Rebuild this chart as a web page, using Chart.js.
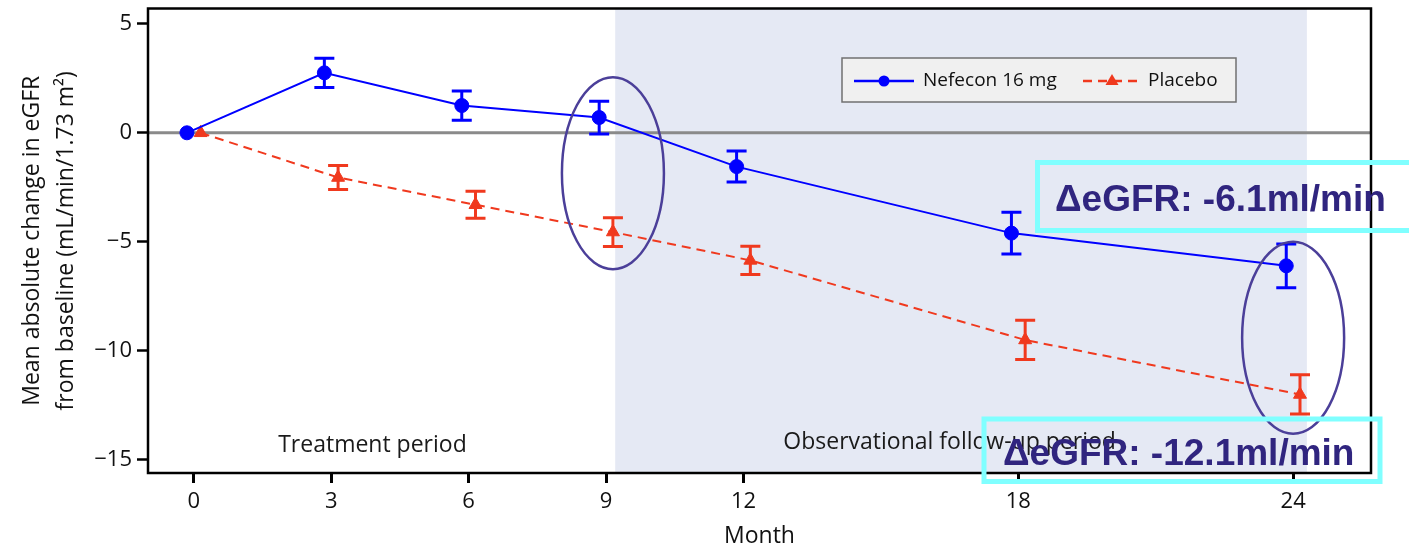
<!DOCTYPE html>
<html>
<head>
<meta charset="utf-8">
<script src="https://cdn.jsdelivr.net/npm/chart.js@4.4.1/dist/chart.umd.min.js"></script>
<style>
html, body { margin: 0; padding: 0; background: #fff; }
#wrap { width: 1409px; height: 548px; }
</style>
</head>
<body>
<div id="wrap"><canvas id="egfrChart" width="1409" height="548"></canvas></div>
<script>
// data
const months = [0, 3, 6, 9, 12, 18, 24];
const nefecon = [0, 2.75, 1.25, 0.7, -1.55, -4.6, -6.1];
const nefeconErr = [0, 0.67, 0.67, 0.75, 0.71, 0.96, 1.0];
const placebo = [0, -2.05, -3.3, -4.55, -5.85, -9.5, -12.0];
const placeboErr = [0, 0.55, 0.62, 0.66, 0.65, 0.9, 0.9];
const seriesNames = ["Nefecon 16 mg", "Placebo"];
const xTicks = [0, 3, 6, 9, 12, 18, 24];
const yTicks = [-15, -10, -5, 0, 5];
const periodLabels = ["Treatment period", "Observational follow-up period"];
const calloutTexts = ["\u0394eGFR: -6.1ml/min", "\u0394eGFR: -12.1ml/min"];

// styling / placement
const FONT = "'Open Sans', sans-serif";
const BLUE = "#0000ff";
const RED = "#f0391e";
const dodge = 0.15;
const followUp = [9.2, 24.3];

const makePoints = (vals, off) => vals.map((v, i) => ({x: months[i] + off, y: v}));

const overlay = {
id: "overlay",

beforeDatasetsDraw(chart){

const {ctx, chartArea: a, scales: {x, y}} = chart;
ctx.save();

/* follow-up shading */
const s0 = x.getPixelForValue(followUp[0]);
const s1 = x.getPixelForValue(followUp[1]);
ctx.fillStyle = "#e5e9f4";
ctx.fillRect(s0, a.top, s1 - s0, a.bottom - a.top);

/* zero line */
const y0 = y.getPixelForValue(0);
ctx.strokeStyle = "#8a8a8a";
ctx.lineWidth = 3;
ctx.beginPath();
ctx.moveTo(a.left, y0);
ctx.lineTo(a.right, y0);
ctx.stroke();

/* period labels */
ctx.fillStyle = "#1a1a1a";
ctx.font = "23px " + FONT;
ctx.textAlign = "center";
ctx.textBaseline = "middle";
ctx.fillText(periodLabels[0], x.getPixelForValue(3.9), y.getPixelForValue(-14.35));
ctx.fillText(periodLabels[1], x.getPixelForValue(16.5), y.getPixelForValue(-14.2));

/* axes box */
ctx.strokeStyle = "#000";
ctx.lineWidth = 2.5;
ctx.strokeRect(a.left, a.top, a.right - a.left, a.bottom - a.top);

ctx.restore();
},

afterDatasetsDraw(chart){

const {ctx, scales: {y}} = chart;
ctx.save();
ctx.lineWidth = 3;

chart.data.datasets.forEach((ds, i) => {
const meta = chart.getDatasetMeta(i);
ctx.strokeStyle = ds.borderColor;
meta.data.forEach((pt, j) => {
const e = ds.errors[j];
if(!e) return;
const v = ds.data[j].y;
const top = y.getPixelForValue(v + e);
const bot = y.getPixelForValue(v - e);
ctx.beginPath();
ctx.moveTo(pt.x, top);
ctx.lineTo(pt.x, bot);
ctx.moveTo(pt.x - 10, top);
ctx.lineTo(pt.x + 10, top);
ctx.moveTo(pt.x - 10, bot);
ctx.lineTo(pt.x + 10, bot);
ctx.stroke();
});
});

ctx.restore();
},

afterDraw(chart){

const {ctx, scales: {x, y}} = chart;
ctx.save();

/* legend */
ctx.fillStyle = "#f0f0f0";
ctx.fillRect(842, 58, 394, 44);
ctx.strokeStyle = "#707070";
ctx.lineWidth = 1.5;
ctx.strokeRect(842, 58, 394, 44);

const ly = 81;
ctx.lineWidth = 2.5;
ctx.strokeStyle = BLUE;
ctx.beginPath();
ctx.moveTo(854, ly);
ctx.lineTo(914, ly);
ctx.stroke();
ctx.fillStyle = BLUE;
ctx.beginPath();
ctx.arc(884, ly, 5.5, 0, Math.PI * 2);
ctx.fill();

ctx.strokeStyle = RED;
ctx.setLineDash([9, 6]);
ctx.beginPath();
ctx.moveTo(1083, ly);
ctx.lineTo(1140, ly);
ctx.stroke();
ctx.setLineDash([]);
ctx.fillStyle = RED;
ctx.beginPath();
ctx.moveTo(1112, ly - 7);
ctx.lineTo(1118.5, ly + 4);
ctx.lineTo(1105.5, ly + 4);
ctx.closePath();
ctx.fill();

ctx.fillStyle = "#111";
ctx.font = "19px " + FONT;
ctx.textAlign = "left";
ctx.textBaseline = "middle";
ctx.fillText(seriesNames[0], 923, ly);
ctx.fillText(seriesNames[1], 1148, ly);

/* highlight ellipses */
ctx.strokeStyle = "#4b3f99";
ctx.lineWidth = 2.5;
[[9.15, -1.85], [24.0, -9.4]].forEach(c => {
ctx.beginPath();
ctx.ellipse(x.getPixelForValue(c[0]), y.getPixelForValue(c[1]), 51, 96, 0, 0, Math.PI * 2);
ctx.stroke();
});

/* callout boxes */
ctx.strokeStyle = "#80ffff";
ctx.lineWidth = 5;
ctx.strokeRect(1037.5, 162.5, 400, 68);
ctx.strokeRect(984, 419, 396, 62.5);

ctx.fillStyle = "#30257f";
ctx.font = "bold 37px 'Liberation Sans', Arial, sans-serif";
ctx.textBaseline = "alphabetic";
ctx.fillText(calloutTexts[0], 1055, 211);
ctx.fillText(calloutTexts[1], 1003, 465);

ctx.restore();
}
};

const ctx = document.getElementById("egfrChart").getContext("2d");

new Chart(ctx, {
type: "line",
data: {
datasets: [
{
label: seriesNames[0],
data: makePoints(nefecon, -dodge),
errors: nefeconErr,
borderColor: BLUE,
backgroundColor: BLUE,
borderWidth: 2,
pointStyle: "circle",
pointRadius: 7,
pointBorderWidth: 1,
tension: 0
},
{
label: seriesNames[1],
data: makePoints(placebo, dodge),
errors: placeboErr,
borderColor: RED,
backgroundColor: RED,
borderWidth: 2,
borderDash: [9, 6],
pointStyle: "triangle",
pointRadius: 7.5,
pointBorderWidth: 1,
tension: 0
}
]
},
options: {
responsive: false,
animation: false,
layout: { padding: { left: 0, top: 7, right: 38, bottom: 0 } },
plugins: { legend: { display: false }, tooltip: { enabled: false } },
scales: {
x: {
type: "linear",
min: -1,
max: 25.7,
afterBuildTicks: s => { s.ticks = xTicks.map(v => ({value: v})); },
afterFit: s => { s.height = 75; s.paddingRight = 0; },
border: { display: false },
grid: { drawOnChartArea: false, tickLength: 10, tickWidth: 3, tickColor: "#000" },
ticks: { color: "#111", font: { family: FONT, size: 22 }, padding: 6, maxRotation: 0, autoSkip: false },
title: { display: true, text: "Month", color: "#111", font: { family: FONT, size: 23, lineHeight: 1 }, padding: 0 }
},
y: {
min: -15.6,
max: 5.7,
afterBuildTicks: s => { s.ticks = yTicks.map(v => ({value: v})); },
afterFit: s => { s.width = 148; s.paddingTop = 0; s.paddingBottom = 0; },
border: { display: false },
grid: { drawOnChartArea: false, tickLength: 11, tickWidth: 2.5, tickColor: "#000" },
ticks: {
color: "#111",
font: { family: FONT, size: 22 },
padding: 5,
callback: v => v < 0 ? "\u2212" + Math.abs(v) : String(v)
},
title: {
display: true,
text: ["Mean absolute change in eGFR", "from baseline (mL/min/1.73 m\u00b2)"],
color: "#111",
font: { family: FONT, size: 23, lineHeight: 1.45 },
padding: { top: 16, bottom: 0 }
}
}
}
},
plugins: [overlay]
});
</script>
</body>
</html>
